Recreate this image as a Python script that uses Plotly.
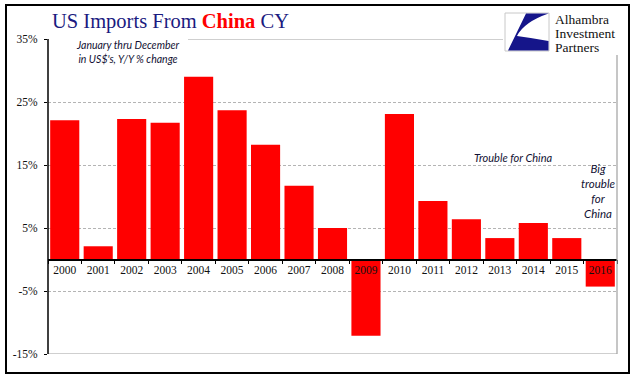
import plotly.graph_objects as go

years = ["2000", "2001", "2002", "2003", "2004", "2005", "2006", "2007", "2008",
         "2009", "2010", "2011", "2012", "2013", "2014", "2015", "2016"]
yoy_change = [22.1, 2.1, 22.3, 21.7, 29.0, 23.7, 18.2, 11.7, 5.0,
              -12.1, 23.1, 9.3, 6.4, 3.4, 5.8, 3.4, -4.3]
y_ticks = [-15, -5, 5, 15, 25, 35]
y_tick_labels = ["-15%", "-5%", "5%", "15%", "25%", "35%"]

W, H = 641, 381
L, R, T, B = 48, 617, 39, 354
YMIN, YMAX = -15, 35


def px(x):
    return (x - L) / (R - L)


def py(y):
    return (B - y) / (B - T)


SERIF = "Liberation Serif, Times New Roman, serif"
ITAL = "Lato, Calibri, sans-serif"
NAVY = "#1a1a80"

fig = go.Figure()
fig.add_trace(go.Bar(x=years, y=yoy_change, marker=dict(color="#ff0000", line=dict(width=0)),
                     hoverinfo="x+y"))

shapes = []
# outer black frame
shapes.append(dict(type="rect", xref="paper", yref="paper", x0=px(6), x1=px(629), y0=py(373), y1=py(5),
                   line=dict(color="black", width=2), layer="above"))
# plot border (gray): bottom, right, top (partially hidden by title/logo)
shapes.append(dict(type="line", xref="paper", yref="y", x0=0, x1=1, y0=YMIN, y1=YMIN,
                   line=dict(color="#a0a0a0", width=1.2), layer="above"))
shapes.append(dict(type="line", xref="paper", yref="paper", x0=1, x1=1, y0=0, y1=py(55),
                   line=dict(color="#a0a0a0", width=1.2), layer="above"))
shapes.append(dict(type="line", xref="paper", yref="y", x0=px(188), x1=px(503), y0=YMAX, y1=YMAX,
                   line=dict(color="#a0a0a0", width=1.2), layer="above"))
# left axis black line
shapes.append(dict(type="line", xref="paper", yref="paper", x0=0, x1=0, y0=0, y1=1,
                   line=dict(color="black", width=1.5), layer="above"))
# logo square
shapes.append(dict(type="rect", xref="paper", yref="paper", x0=px(505), x1=px(549), y0=py(51), y1=py(13),
                   line=dict(color="#c8c8c8", width=1), fillcolor="white", layer="above"))
path = (f"M {px(526)},{py(13.5)} L {px(548.5)},{py(13.5)} "
        f"Q {px(524)},{py(22)} {px(517)},{py(36)} "
        f"Q {px(532)},{py(38)} {px(548.5)},{py(41)} "
        f"L {px(548.5)},{py(50.5)} L {px(508)},{py(50.5)} Z")
shapes.append(dict(type="path", xref="paper", yref="paper", path=path,
                   fillcolor="#15158a", line=dict(width=0), layer="above"))

annotations = []
annotations.append(dict(xref="paper", yref="paper", x=px(170), y=py(22), xanchor="center", yanchor="middle",
                        showarrow=False,
                        text=f"<span style='color:{NAVY}'>US Imports From </span>"
                             f"<b><span style='color:#ff0000'>China</span></b>"
                             f"<span style='color:{NAVY}'> CY</span>",
                        font=dict(family=SERIF, size=20.5, color=NAVY)))
annotations.append(dict(xref="paper", yref="paper", x=px(127), y=py(52), xanchor="center", yanchor="middle",
                        showarrow=False, align="center",
                        text="<i>January thru December<br>in US$'s, Y/Y % change</i>",
                        font=dict(family=ITAL, size=10.5, color="#111133")))
annotations.append(dict(xref="paper", yref="paper", x=px(513), y=py(157), xanchor="center", yanchor="middle",
                        showarrow=False, text="<i>Trouble for China</i>",
                        font=dict(family=ITAL, size=11, color="#111133")))
annotations.append(dict(xref="paper", yref="paper", x=px(598), y=py(191), xanchor="center", yanchor="middle",
                        showarrow=False, align="center", text="<i>Big<br>trouble<br>for<br>China</i>",
                        font=dict(family=ITAL, size=11.5, color="#111133")))
for i, word in enumerate(["Alhambra", "Investment", "Partners"]):
    annotations.append(dict(xref="paper", yref="paper", x=px(553), y=py(20 + 13.5 * i), xanchor="left",
                            yanchor="middle", showarrow=False, text=word,
                            font=dict(family=SERIF, size=13.5, color="#111111")))

fig.update_layout(
    width=W, height=H,
    margin=dict(l=L, r=W - R, t=T, b=H - B, pad=0),
    paper_bgcolor="white", plot_bgcolor="white",
    showlegend=False, bargap=0.13,
    shapes=shapes, annotations=annotations,
    xaxis=dict(type="category", range=[-0.5, len(years) - 0.5],
               anchor="free", position=(0 - YMIN) / (YMAX - YMIN),
               showline=True, linecolor="black", linewidth=1.5,
               ticks="outside", tickson="boundaries", ticklen=4, tickcolor="black", tickwidth=1,
               showgrid=False, zeroline=False,
               tickfont=dict(family=SERIF, size=11.5, color="#111111")),
    yaxis=dict(range=[YMIN, YMAX], tickvals=y_ticks, ticktext=y_tick_labels,
               showgrid=True, gridcolor="#b4b4b4", gridwidth=1, griddash="3px,2px",
               zeroline=False, showline=False,
               ticks="outside", ticklen=3, tickcolor="black",
               ticklabelstandoff=4,
               tickfont=dict(family=SERIF, size=11.5, color="#111111")),
)

fig.write_html("out.html", config={"displayModeBar": False},
               post_script="document.body.style.margin='0';")
